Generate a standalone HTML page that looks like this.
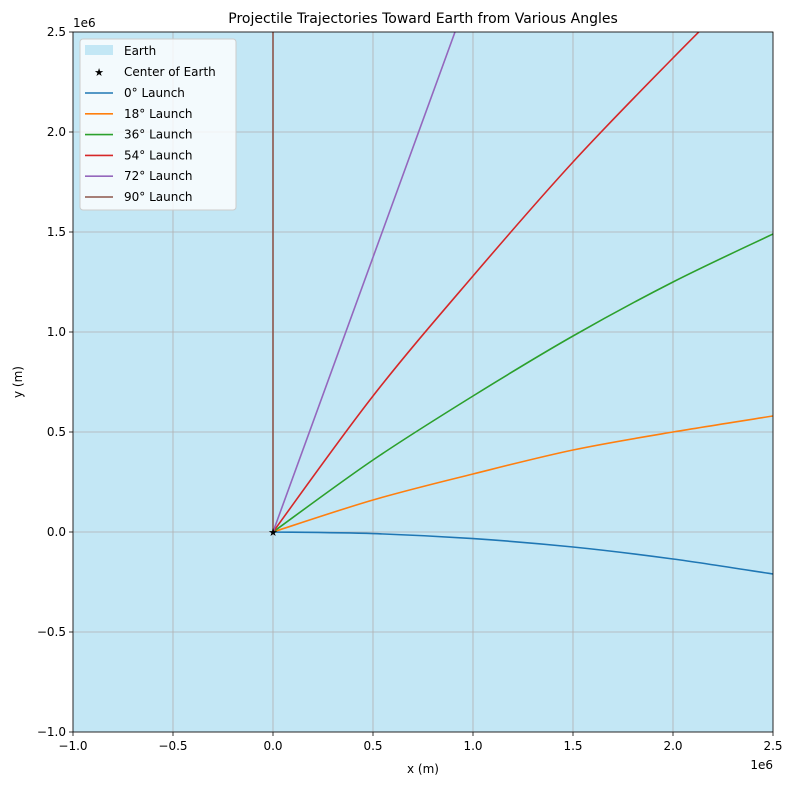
<!DOCTYPE html>
<html><head><meta charset="utf-8"><style>
body{margin:0;background:#fff;font-family:"Liberation Sans","DejaVu Sans",sans-serif}
svg text{font-family:"DejaVu Sans","Liberation Sans",sans-serif}
</style></head><body>
<svg id="chart" width="793" height="785" xmlns="http://www.w3.org/2000/svg">
<rect width="793" height="785" fill="#fff"/>
<g id="plot"></g>
</svg>
<script>
const xTicks=[-1.0,-0.5,0.0,0.5,1.0,1.5,2.0,2.5];
const yTicks=[-1.0,-0.5,0.0,0.5,1.0,1.5,2.0,2.5];
const xTickLabels=["−1.0","−0.5","0.0","0.5","1.0","1.5","2.0","2.5"];
const yTickLabels=["−1.0","−0.5","0.0","0.5","1.0","1.5","2.0","2.5"];
const seriesNames=["0° Launch","18° Launch","36° Launch","54° Launch","72° Launch","90° Launch"];
const seriesColors=["#1f77b4","#ff7f0e","#2ca02c","#d62728","#9467bd","#8c564b"];
const x0=[0,0.5,1.0,1.5,2.0,2.5], y0=[0,-0.008,-0.033,-0.075,-0.135,-0.21];
const x18=[0,0.5,1.0,1.5,2.0,2.5], y18=[0,0.16,0.29,0.41,0.5,0.58];
const x36=[0,0.5,1.0,1.5,2.0,2.5], y36=[0,0.36,0.68,0.98,1.25,1.49];
const x54=[0,0.5,1.0,1.5,2.0,2.5], y54=[0,0.68,1.28,1.85,2.37,2.87];
const x72=[0,0.91], y72=[0,2.5];
const x90=[0,0], y90=[0,2.5];
const seriesX=[x0,x18,x36,x54,x72,x90], seriesY=[y0,y18,y36,y54,y72,y90];

const L=73,R=773,T=32,B=732,xmin=-1,xmax=2.5,ymin=-1,ymax=2.5;
const sx=v=>L+(v-xmin)/(xmax-xmin)*(R-L);
const sy=v=>B-(v-ymin)/(ymax-ymin)*(B-T);
const NS="http://www.w3.org/2000/svg";
const g=document.getElementById('plot');
function mk(tag,attrs,parent){const e=document.createElementNS(NS,tag);for(const k in attrs)e.setAttribute(k,attrs[k]);(parent||g).appendChild(e);return e;}

let e=mk('rect',{x:L,y:T,width:R-L,height:B-T,fill:"#c3e7f5"});



xTicks.forEach((t,i)=>{
 let l=mk('line',{x1:sx(t),x2:sx(t),y1:T,y2:B,stroke:"#b0b0b0","stroke-width":0.8});
 
 
 mk('line',{x1:sx(t),x2:sx(t),y1:B,y2:B+4,stroke:"#000","stroke-width":0.8});
 let tx=mk('text',{x:sx(t),y:B+18,"text-anchor":"middle","font-size":12});
 tx.textContent=xTickLabels[i];
 
 
});
yTicks.forEach((t,i)=>{
 let l=mk('line',{x1:L,x2:R,y1:sy(t),y2:sy(t),stroke:"#b0b0b0","stroke-width":0.8});
 
 
 mk('line',{x1:L-4,x2:L,y1:sy(t),y2:sy(t),stroke:"#000","stroke-width":0.8});
 let tx=mk('text',{x:L-7,y:sy(t)+4,"text-anchor":"end","font-size":12});
 tx.textContent=yTickLabels[i];
 
 
});

function smoothPath(P){
 if(P.length<3) return "M"+P.map(p=>p[0]+","+p[1]).join(" L");
 let d="M"+P[0][0]+","+P[0][1];
 for(let i=0;i<P.length-1;i++){
  const p0=P[i-1]||P[i],p1=P[i],p2=P[i+1],p3=P[i+2]||P[i+1];
  const c1=[p1[0]+(p2[0]-p0[0])/6,p1[1]+(p2[1]-p0[1])/6];
  const c2=[p2[0]-(p3[0]-p1[0])/6,p2[1]-(p3[1]-p1[1])/6];
  d+=" C"+c1+" "+c2+" "+p2;
 }
 return d;
}
const cp=mk('clipPath',{id:"clip"});mk('rect',{x:L,y:T,width:R-L,height:B-T},cp);
seriesX.forEach((xs,i)=>{
 const P=xs.map((x,j)=>[sx(x),sy(seriesY[i][j])]);
 let p=mk('path',{d:smoothPath(P),fill:"none",stroke:seriesColors[i],"stroke-width":1.6,"clip-path":"url(#clip)"});
 
 
});
let star=mk('text',{x:sx(0),y:sy(0)+4,"text-anchor":"middle","font-size":11,fill:"#000"});
star.textContent="★";



let fr=mk('rect',{x:L,y:T,width:R-L,height:B-T,fill:"none",stroke:"#000","stroke-width":0.8});



function txt(s,a,name){let t=mk('text',a);t.textContent=s;return t;}
txt("Projectile Trajectories Toward Earth from Various Angles",{x:(L+R)/2,y:23,"text-anchor":"middle","font-size":14},'chart-title');
txt("x (m)",{x:(L+R)/2,y:773,"text-anchor":"middle","font-size":12},'x-axis-title');
txt("y (m)",{x:22,y:(T+B)/2,"text-anchor":"middle","font-size":12,transform:"rotate(-90 22 "+(T+B)/2+")"},'y-axis-title');
txt("1e6",{x:R,y:B+37,"text-anchor":"end","font-size":12},'x-offset-label');
txt("1e6",{x:L,y:T-5,"text-anchor":"start","font-size":12},'y-offset-label');

const lg=mk('g',{});


mk('rect',{x:80,y:39,width:156,height:171,rx:3,fill:"#fff","fill-opacity":0.8,stroke:"#ccc"},lg);
mk('rect',{x:85,y:45,width:28,height:10,fill:"#c3e7f5"},lg);
const e1=mk('text',{x:124,y:55,"font-size":12},lg);e1.textContent="Earth";
const st=mk('text',{x:99,y:76,"font-size":11,"text-anchor":"middle"},lg);st.textContent="★";
const e2=mk('text',{x:124,y:76,"font-size":12},lg);e2.textContent="Center of Earth";
seriesNames.forEach((n,i)=>{
 const y=93+i*20.8;
 mk('line',{x1:85,x2:113,y1:y,y2:y,stroke:seriesColors[i],"stroke-width":1.6},lg);
 let t=mk('text',{x:124,y:y+4,"font-size":12},lg);t.textContent=n;
 
 
});
</script>
</body></html>
